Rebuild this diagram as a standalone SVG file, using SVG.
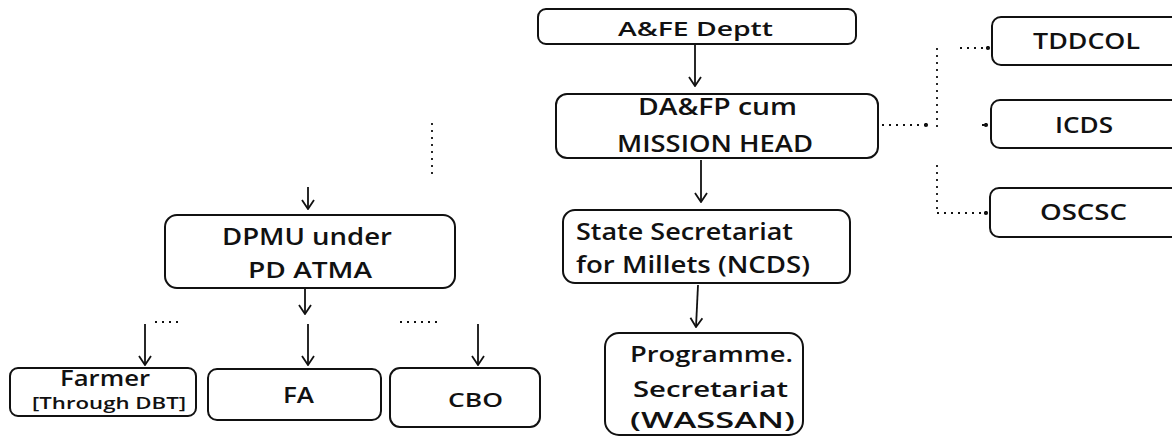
<svg xmlns="http://www.w3.org/2000/svg" width="1172" height="437" viewBox="0 0 1172 437">
<defs>
<marker id="arr" viewBox="-1 -7 11 14" refX="9" refY="0" markerWidth="11" markerHeight="14" markerUnits="userSpaceOnUse" orient="auto">
<path d="M0,-6 L9,0 L0,6" fill="none" stroke="#111" stroke-width="1.8"/>
</marker>
<marker id="dot" viewBox="-3 -3 6 6" refX="0" refY="0" markerWidth="5" markerHeight="5" markerUnits="userSpaceOnUse" orient="auto">
<circle r="2.5" fill="#111"/>
</marker>
</defs>
<style>
.box{fill:#fff;stroke:#111;stroke-width:2}
.t{font-family:"Open Sans","Liberation Sans",sans-serif;font-weight:600;fill:#111;text-anchor:start}
.c{stroke:#111;stroke-width:1.8;fill:none}
.d{stroke:#111;stroke-width:1.8;fill:none;stroke-dasharray:2 5}
</style>
<rect width="1172" height="437" fill="#fff"/>

<g id="connectors">
<line class="c" x1="695" y1="44" x2="695" y2="86" marker-end="url(#arr)"/>
<line class="c" x1="701" y1="160" x2="701" y2="202" marker-end="url(#arr)"/>
<line class="c" x1="698" y1="285" x2="696" y2="327" marker-end="url(#arr)"/>
<line class="c" x1="308" y1="187" x2="308" y2="209" marker-end="url(#arr)"/>
<line class="c" x1="305" y1="289" x2="305" y2="314" marker-end="url(#arr)"/>
<line class="c" x1="145" y1="324" x2="145" y2="365" marker-end="url(#arr)"/>
<line class="c" x1="308" y1="324" x2="308" y2="365" marker-end="url(#arr)"/>
<line class="c" x1="478" y1="324" x2="478" y2="365" marker-end="url(#arr)"/>
<line class="d" x1="432" y1="123" x2="432" y2="176"/>
<line class="d" x1="155" y1="322" x2="180" y2="322"/>
<line class="d" x1="400" y1="322" x2="442" y2="322"/>
<line class="d" x1="882" y1="125" x2="926" y2="125" marker-end="url(#dot)"/>
<line class="d" x1="937" y1="48" x2="937" y2="128"/>
<line class="d" x1="937" y1="165" x2="937" y2="212"/>
<line class="d" x1="960" y1="48" x2="988" y2="48" marker-end="url(#dot)"/>
<line class="d" x1="982" y1="125" x2="986" y2="125" marker-end="url(#dot)"/>
<line class="d" x1="937" y1="213" x2="986" y2="213" marker-end="url(#dot)"/>
</g>

<g id="afe">
<rect class="box" x="538" y="9" width="318" height="35" rx="8"/>
<text class="t" x="618" y="36" font-size="20" textLength="155" lengthAdjust="spacingAndGlyphs">A&amp;FE Deptt</text>
</g>

<g id="dafp">
<rect class="box" x="556" y="94" width="322" height="64" rx="11"/>
<text class="t" x="638" y="115" font-size="24" textLength="159" lengthAdjust="spacingAndGlyphs">DA&amp;FP cum</text>
<text class="t" x="617" y="152" font-size="24" textLength="196" lengthAdjust="spacingAndGlyphs">MISSION HEAD</text>
</g>

<g id="state">
<rect class="box" x="563" y="210" width="287" height="73" rx="12"/>
<text class="t" x="576" y="240" font-size="23" textLength="217" lengthAdjust="spacingAndGlyphs">State Secretariat</text>
<text class="t" x="576" y="273" font-size="23" textLength="234" lengthAdjust="spacingAndGlyphs">for Millets (NCDS)</text>
</g>

<g id="programme">
<rect class="box" x="605" y="333" width="198" height="102" rx="14"/>
<text class="t" x="630" y="362" font-size="21" textLength="163" lengthAdjust="spacingAndGlyphs">Programme.</text>
<text class="t" x="633" y="397" font-size="21" textLength="155" lengthAdjust="spacingAndGlyphs">Secretariat</text>
<text class="t" x="630" y="428" font-size="21" textLength="165" lengthAdjust="spacingAndGlyphs">(WASSAN)</text>
</g>

<g id="tddcol">
<rect class="box" x="992" y="17" width="190" height="48" rx="9"/>
<text class="t" x="1033" y="49" font-size="22" textLength="107" lengthAdjust="spacingAndGlyphs">TDDCOL</text>
</g>

<g id="icds">
<rect class="box" x="991" y="100" width="191" height="48" rx="9"/>
<text class="t" x="1055" y="133" font-size="21" textLength="58" lengthAdjust="spacingAndGlyphs">ICDS</text>
</g>

<g id="oscsc">
<rect class="box" x="990" y="188" width="192" height="49" rx="9"/>
<text class="t" x="1040" y="220" font-size="21" textLength="87" lengthAdjust="spacingAndGlyphs">OSCSC</text>
</g>

<g id="dpmu">
<rect class="box" x="165" y="215" width="290" height="73" rx="12"/>
<text class="t" x="222" y="245" font-size="23" textLength="170" lengthAdjust="spacingAndGlyphs">DPMU under</text>
<text class="t" x="248" y="278" font-size="22" textLength="124" lengthAdjust="spacingAndGlyphs">PD ATMA</text>
</g>

<g id="farmer">
<rect class="box" x="10" y="368" width="186" height="48" rx="8"/>
<text class="t" x="60" y="386" font-size="22" textLength="90" lengthAdjust="spacingAndGlyphs">Farmer</text>
<text class="t" x="32" y="409" font-size="17" textLength="154" lengthAdjust="spacingAndGlyphs">[Through DBT]</text>
</g>

<g id="fa">
<rect class="box" x="208" y="369" width="173" height="51" rx="9"/>
<text class="t" x="283" y="403" font-size="21" textLength="31" lengthAdjust="spacingAndGlyphs">FA</text>
</g>

<g id="cbo">
<rect class="box" x="390" y="368" width="150" height="59" rx="10"/>
<text class="t" x="448" y="407" font-size="20" textLength="55" lengthAdjust="spacingAndGlyphs">CBO</text>
</g>
</svg>
